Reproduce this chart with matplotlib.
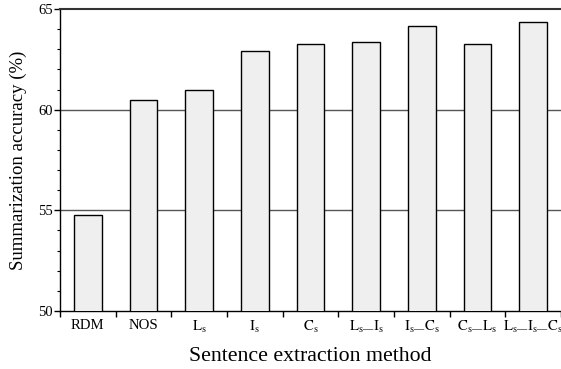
import matplotlib
matplotlib.use("Agg")
import matplotlib.pyplot as plt
from matplotlib.ticker import MultipleLocator, FixedLocator

categories = ["RDM", "NOS", r"$\mathrm{L_s}$", r"$\mathrm{I_s}$", r"$\mathrm{C_s}$",
              r"$\mathrm{L_{s—}I_s}$", r"$\mathrm{I_{s—}C_s}$",
              r"$\mathrm{C_{s—}L_s}$", r"$\mathrm{L_{s—}I_{s—}C_s}$"]
values = [54.75, 60.48, 60.96, 62.90, 63.25, 63.38, 64.17, 63.26, 64.36]

plt.rcParams['font.family'] = ['Liberation Serif', 'DejaVu Serif']
plt.rcParams['mathtext.fontset'] = 'stix'

fig = plt.figure(figsize=(5.61, 3.69), dpi=100)
ax = fig.add_axes([60/561, 58/369, 501/561, 302/369])

x = list(range(len(categories)))
ax.bar(x, values, width=0.5, bottom=0, color='#efefef', edgecolor='black', linewidth=1.0, zorder=3)

ax.set_ylim(50, 65)
ax.set_xlim(-0.5, 8.5)

for yv in [55, 60]:
    ax.axhline(yv, color='#555555', linewidth=1.0, zorder=1)

ax.spines['right'].set_visible(False)
ax.spines['top'].set_color('#333333')
ax.spines['top'].set_linewidth(1.5)
ax.spines['left'].set_linewidth(1.0)
ax.spines['bottom'].set_linewidth(1.0)

ax.yaxis.set_major_locator(MultipleLocator(5))
ax.yaxis.set_minor_locator(MultipleLocator(1))
ax.tick_params(axis='y', which='major', direction='out', length=4, width=1, labelsize=10.5, pad=1)
ax.tick_params(axis='y', which='minor', direction='out', length=2, width=0.8)

ax.set_xticks(x)
ax.set_xticklabels(categories)
ax.xaxis.set_minor_locator(FixedLocator([i + 0.5 for i in range(-1, 9)]))
ax.tick_params(axis='x', which='major', length=0, labelsize=10.6, pad=6)
ax.tick_params(axis='x', which='minor', direction='out', length=4, width=1)

ax.set_xlabel("Sentence extraction method", fontsize=15.7, labelpad=8)
ax.set_ylabel("Summarization accuracy (%)", fontsize=13.5, labelpad=8)

fig.savefig("out.png", dpi=100)
